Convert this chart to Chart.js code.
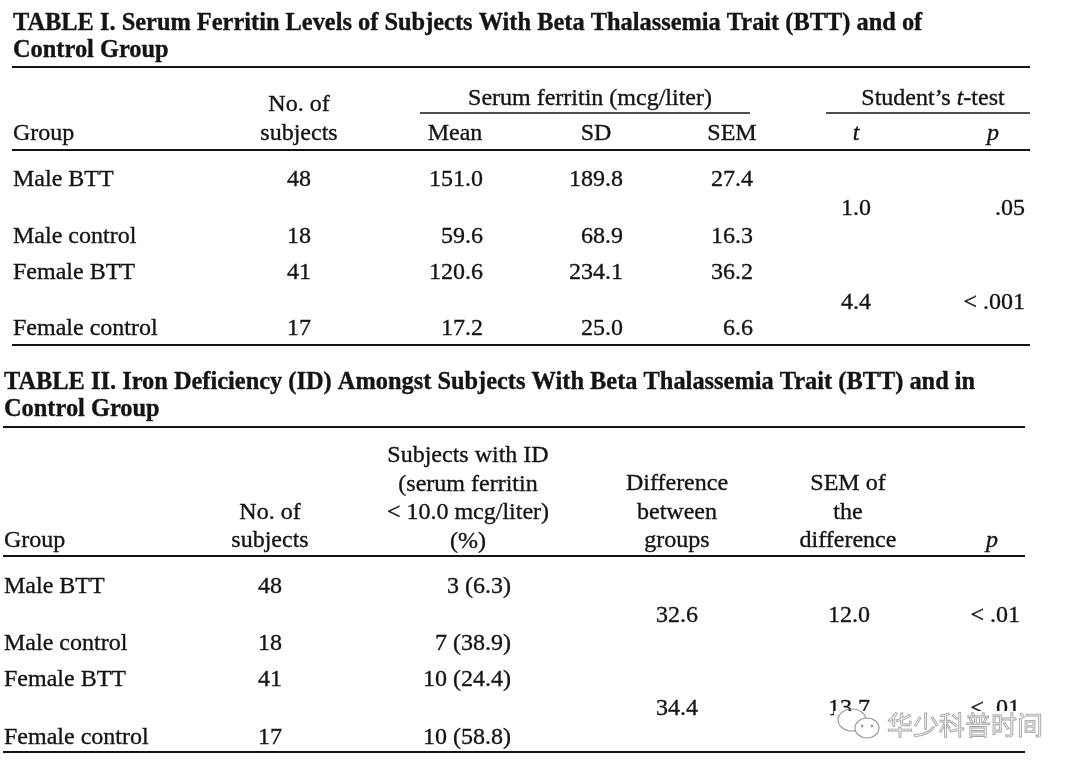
<!DOCTYPE html>
<html>
<head>
<meta charset="utf-8">
<script src="https://cdn.jsdelivr.net/npm/chart.js@4"></script>
<style>
  body { margin: 0; background: #fff; }
  #wrap { width: 1080px; height: 771px; position: relative; }
</style>
</head>
<body>
<div id="wrap"><canvas id="tableChart"></canvas></div>
<script>
// Table I data
const groups = ['Male BTT', 'Male control', 'Female BTT', 'Female control'];
const subjects = [48, 18, 41, 17];
const ferritinMean = [151.0, 59.6, 120.6, 17.2];
const ferritinSD = [189.8, 68.9, 234.1, 25.0];
const ferritinSEM = [27.4, 16.3, 36.2, 6.6];
const tValues = [1.0, 4.4];
const tPValues = ['.05', '< .001'];

// Table II data
const idCount = [3, 7, 10, 10];
const idPercent = [6.3, 38.9, 24.4, 58.8];
const diffGroups = [32.6, 34.4];
const semDiff = [12.0, 13.7];
const diffPValues = ['< .01', '< .01'];

const title1 = ['TABLE I. Serum Ferritin Levels of Subjects With Beta Thalassemia Trait (BTT) and of', 'Control Group'];
const title2 = ['TABLE II. Iron Deficiency (ID) Amongst Subjects With Beta Thalassemia Trait (BTT) and in', 'Control Group'];

const SERIF = '"Liberation Serif", "Times New Roman", serif';
const INK = '#141414';

function put(ctx, chart, text, x, y, align, font) {
    const sx = chart.scales.x, sy = chart.scales.y;
    ctx.font = font || ('24px ' + SERIF);
    ctx.textAlign = align || 'left';
    const px = sx.getPixelForValue(x), py = sy.getPixelForValue(y);
    ctx.fillText(text, px, py);
    // scanned print is a little heavier than the font
    ctx.lineWidth = 0.35;
    ctx.strokeText(text, px, py);
}

function rule(ctx, chart, x1, x2, y, w) {
    const sx = chart.scales.x, sy = chart.scales.y;
    ctx.lineWidth = w || 2;
    ctx.beginPath();
    ctx.moveTo(sx.getPixelForValue(x1), sy.getPixelForValue(y));
    ctx.lineTo(sx.getPixelForValue(x2), sy.getPixelForValue(y));
    ctx.stroke();
}

// mixed roman / italic run, centred on x
function putMixed(ctx, chart, parts, x, y) {
    const sx = chart.scales.x;
    let total = 0;
    parts.forEach(p => { ctx.font = p.font; total += ctx.measureText(p.text).width; });
    let px = sx.getPixelForValue(x) - total / 2;
    parts.forEach(p => {
        put(ctx, chart, p.text, sx.getValueForPixel(px), y, 'left', p.font);
        ctx.font = p.font;
        px += ctx.measureText(p.text).width;
    });
}

const tablePlugin = {
    id: 'tablePlugin',
    afterDraw(chart) {
        const ctx = chart.ctx;
        const body = '24px ' + SERIF;
        const bold = 'bold 24.4px ' + SERIF;
        const ital = 'italic 24px ' + SERIF;
        ctx.save();
        ctx.fillStyle = INK;
        ctx.strokeStyle = INK;
        ctx.textBaseline = 'alphabetic';

        // ---- Table I ----
        put(ctx, chart, title1[0], 13, 30, 'left', bold);
        put(ctx, chart, title1[1], 13, 57, 'left', bold);
        rule(ctx, chart, 12, 1030, 67, 2);

        put(ctx, chart, 'No. of', 299, 111, 'center', body);
        put(ctx, chart, 'Serum ferritin (mcg/liter)', 590, 105, 'center', body);
        rule(ctx, chart, 420, 750, 113, 1.5);
        putMixed(ctx, chart, [
            { text: 'Student\u2019s ', font: body },
            { text: 't', font: ital },
            { text: '-test', font: body }
        ], 933, 105);
        rule(ctx, chart, 826, 1030, 113, 1.5);

        put(ctx, chart, 'Group', 13, 140, 'left', body);
        put(ctx, chart, 'subjects', 299, 140, 'center', body);
        put(ctx, chart, 'Mean', 455, 140, 'center', body);
        put(ctx, chart, 'SD', 596, 140, 'center', body);
        put(ctx, chart, 'SEM', 732, 140, 'center', body);
        put(ctx, chart, 't', 856, 140, 'center', ital);
        put(ctx, chart, 'p', 993, 140, 'center', ital);
        rule(ctx, chart, 12, 1030, 150, 2);

        const rows1 = [186, 243, 279, 335];
        const pair1 = [215, 309];
        groups.forEach((g, i) => {
            put(ctx, chart, g, 13, rows1[i], 'left', body);
            put(ctx, chart, String(subjects[i]), 299, rows1[i], 'center', body);
            put(ctx, chart, ferritinMean[i].toFixed(1), 483, rows1[i], 'right', body);
            put(ctx, chart, ferritinSD[i].toFixed(1), 623, rows1[i], 'right', body);
            put(ctx, chart, ferritinSEM[i].toFixed(1), 753, rows1[i], 'right', body);
        });
        tValues.forEach((t, i) => {
            put(ctx, chart, t.toFixed(1), 856, pair1[i], 'center', body);
            put(ctx, chart, tPValues[i], 1025, pair1[i], 'right', body);
        });
        rule(ctx, chart, 12, 1030, 345, 2);

        // ---- Table II ----
        put(ctx, chart, title2[0], 4, 389, 'left', bold);
        put(ctx, chart, title2[1], 4, 416, 'left', bold);
        rule(ctx, chart, 3, 1025, 427, 2);

        ['Subjects with ID', '(serum ferritin', '< 10.0 mcg/liter)', '(%)'].forEach((s, i) => {
            put(ctx, chart, s, 468, 462 + i * 28.5, 'center', body);
        });
        put(ctx, chart, 'No. of', 270, 519, 'center', body);
        put(ctx, chart, 'subjects', 270, 547, 'center', body);
        put(ctx, chart, 'Group', 4, 547, 'left', body);
        ['Difference', 'between', 'groups'].forEach((s, i) => {
            put(ctx, chart, s, 677, 490 + i * 28.5, 'center', body);
        });
        ['SEM of', 'the', 'difference'].forEach((s, i) => {
            put(ctx, chart, s, 848, 490 + i * 28.5, 'center', body);
        });
        put(ctx, chart, 'p', 992, 547, 'center', ital);
        rule(ctx, chart, 3, 1025, 556, 2);

        const rows2 = [593, 650, 686, 744];
        const pair2 = [622, 715];
        groups.forEach((g, i) => {
            put(ctx, chart, g, 4, rows2[i], 'left', body);
            put(ctx, chart, String(subjects[i]), 270, rows2[i], 'center', body);
            put(ctx, chart, idCount[i] + ' (' + idPercent[i].toFixed(1) + ')', 511, rows2[i], 'right', body);
        });
        diffGroups.forEach((d, i) => {
            put(ctx, chart, d.toFixed(1), 677, pair2[i], 'center', body);
            put(ctx, chart, semDiff[i].toFixed(1), 849, pair2[i], 'center', body);
            put(ctx, chart, diffPValues[i], 1020, pair2[i], 'right', body);
        });
        rule(ctx, chart, 3, 1025, 752, 2);

        // ---- watermark ----
        const sx = chart.scales.x, sy = chart.scales.y;
        ctx.fillStyle = '#fff';
        ctx.fillRect(sx.getPixelForValue(834), sy.getPixelForValue(711), 212, 32);
        ctx.strokeStyle = '#9a9a9a';
        ctx.lineWidth = 1.2;
        ctx.beginPath();
        ctx.ellipse(sx.getPixelForValue(852), sy.getPixelForValue(720), 14, 11, 0, 0, Math.PI * 2);
        ctx.stroke();
        ctx.fillStyle = '#fff';
        ctx.beginPath();
        ctx.ellipse(sx.getPixelForValue(867), sy.getPixelForValue(728), 12, 10, 0, 0, Math.PI * 2);
        ctx.fill();
        ctx.stroke();
        ctx.fillStyle = '#9a9a9a';
        [[862, 726], [872, 726]].forEach(p => {
            ctx.beginPath();
            ctx.arc(sx.getPixelForValue(p[0]), sy.getPixelForValue(p[1]), 1.4, 0, Math.PI * 2);
            ctx.fill();
        });
        ctx.font = '26px "Noto Sans CJK SC", sans-serif';
        ctx.textAlign = 'left';
        ctx.fillStyle = '#fafafa';
        ctx.strokeStyle = '#a4a4a4';
        ctx.lineWidth = 0.9;
        ctx.fillText('华少科普时间', sx.getPixelForValue(887), sy.getPixelForValue(735));
        ctx.strokeText('华少科普时间', sx.getPixelForValue(887), sy.getPixelForValue(735));

        ctx.restore();
    }
};

new Chart(document.getElementById('tableChart'), {
    type: 'scatter',
    data: { datasets: [{ data: [], pointRadius: 0 }] },
    options: {
        responsive: true,
        maintainAspectRatio: false,
        animation: false,
        events: [],
        layout: { padding: 0 },
        plugins: { legend: { display: false }, tooltip: { enabled: false } },
        scales: {
            x: { type: 'linear', min: 0, max: 1080, display: false },
            y: { type: 'linear', min: 0, max: 771, reverse: true, display: false }
        }
    },
    plugins: [tablePlugin]
});
</script>
</body>
</html>
